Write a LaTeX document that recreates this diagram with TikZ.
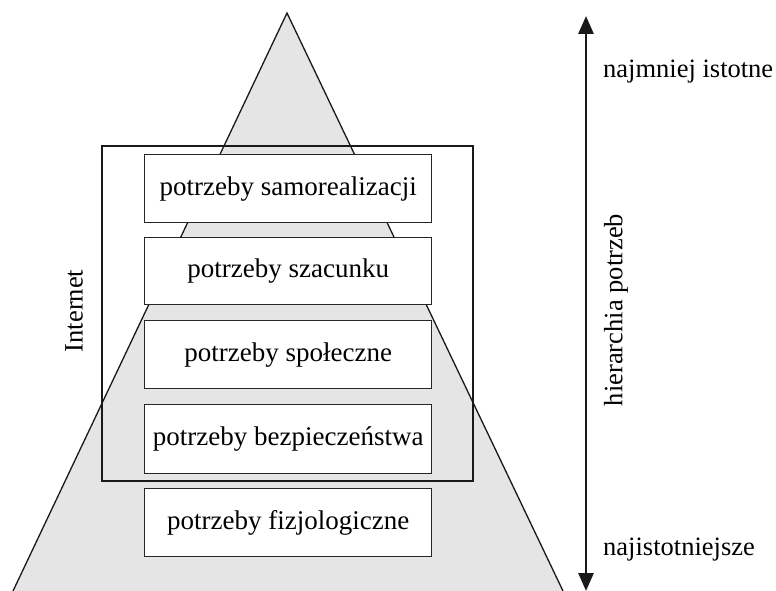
\documentclass[tikz,border=0pt]{standalone}
\usepackage{fontspec}
\setmainfont{Liberation Serif}
\usetikzlibrary{arrows.meta}
\begin{document}
\begin{tikzpicture}[x=1pt,y=-1pt,
  font=\fontsize{26.5}{30}\selectfont,
  level/.style={draw=black!85,line width=1.3pt,fill=white,minimum width=287pt,minimum height=68pt,inner sep=0pt,anchor=north west,font=\fontsize{27}{30}\selectfont,text=black},
  lbl/.style={inner sep=0pt,text=black}]
\useasboundingbox (0,0) rectangle (776,591);
\fill[gray!20] (13,591) -- (287,13) -- (563,591) -- cycle;
\coordinate (apex) at (287,13);
\coordinate (bl) at (13,591);
\coordinate (br) at (563,591);
\draw[line width=1.3pt,black!90,line join=miter] (bl) -- (apex) -- (br);
\node[level] (n1) at (144,154) {potrzeby samorealizacji};
\node[level,minimum height=67pt] (n2) at (144,237) {potrzeby szacunku};
\node[level] (n3) at (144,320) {potrzeby społeczne};
\node[level,minimum height=69pt] (n4) at (144,404) {potrzeby bezpieczeństwa};
\node[level] (n5) at (144,488) {potrzeby fizjologiczne};
\draw[line width=2.8pt,black!90] (102,146) rectangle (473,481);
\node[lbl,rotate=90] (inet) at (74,311) {Internet};
\coordinate (atop) at (586,16);
\coordinate (abot) at (586,591);
\draw[line width=2.8pt,black!90,{Triangle[length=18pt,width=15pt]}-{Triangle[length=18pt,width=15pt]}] (abot) -- (atop);
\node[lbl,anchor=west] (top) at (603,72) {najmniej istotne};
\node[lbl,anchor=west] (bot) at (603,550) {najistotniejsze};
\node[lbl,rotate=90] (hier) at (616,310) {hierarchia potrzeb};
\end{tikzpicture}
\end{document}
